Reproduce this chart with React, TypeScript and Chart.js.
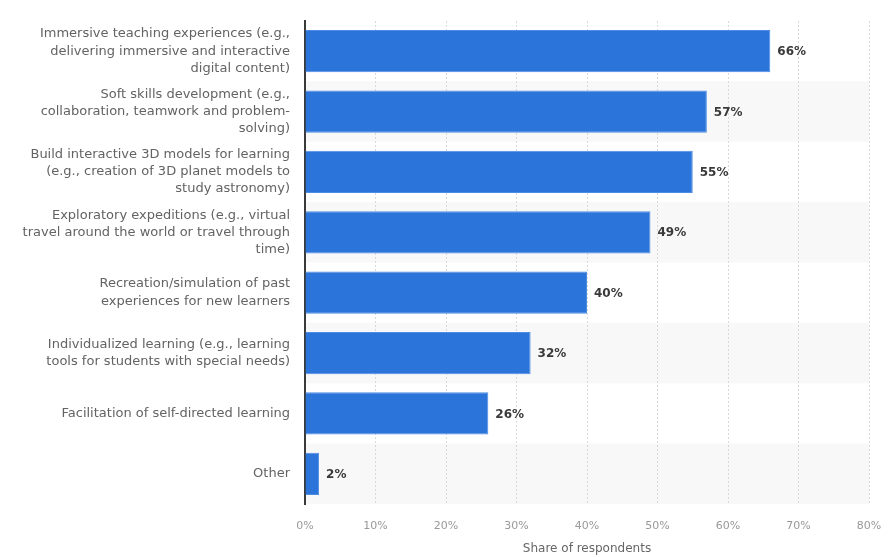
import React, { useEffect, useRef } from "react";
import { Chart, registerables } from "chart.js";

Chart.register(...registerables);

const categories: (string | string[])[] = [
  ["Immersive teaching experiences (e.g.,", "delivering immersive and interactive", "digital content)"],
  ["Soft skills development (e.g.,", "collaboration, teamwork and problem-", "solving)"],
  ["Build interactive 3D models for learning", "(e.g., creation of 3D planet models to", "study astronomy)"],
  ["Exploratory expeditions (e.g., virtual", "travel around the world or travel through", "time)"],
  ["Recreation/simulation of past", "experiences for new learners"],
  ["Individualized learning (e.g., learning", "tools for students with special needs)"],
  "Facilitation of self-directed learning",
  "Other",
];

const shares: number[] = [66, 57, 55, 49, 40, 32, 26, 2];

const xMin = 0;
const xMax = 80;
const xStep = 10;
const axisTitle = "Share of respondents";

const FONT = "'DejaVu Sans', sans-serif";

const bandPlugin = {
  id: "bands",
  beforeDraw(chart: any) {
    const { ctx, chartArea } = chart;
    const y = chart.scales.y;
    const n = chart.data.labels.length;
    const row = (chartArea.bottom - chartArea.top) / n;
    ctx.save();
    ctx.fillStyle = "#f8f8f8";
    for (let i = 1; i < n; i += 2) {
      const c = y.getPixelForValue(i);
      ctx.fillRect(chartArea.left, c - row / 2, chartArea.right - chartArea.left, row);
    }
    ctx.restore();
  },
};

const labelPlugin = {
  id: "valueLabels",
  afterDatasetsDraw(chart: any) {
    const { ctx } = chart;
    const meta = chart.getDatasetMeta(0);
    const data = chart.data.datasets[0].data;
    ctx.save();
    ctx.font = `bold 12px ${FONT}`;
    ctx.fillStyle = "#3a3a3a";
    ctx.textAlign = "left";
    ctx.textBaseline = "middle";
    meta.data.forEach((bar: any, i: number) => {
      ctx.fillText(`${data[i]}%`, bar.x + 7, bar.y + 1);
    });
    ctx.restore();
  },
};

export default function App() {
  const ref = useRef<HTMLCanvasElement>(null);

  useEffect(() => {
    if (!ref.current) return;
    const chart = new Chart(ref.current, {
      type: "bar",
      data: {
        labels: categories as any,
        datasets: [
          {
            data: shares,
            backgroundColor: "#2a74da",
            borderColor: "#4d8ce3",
            borderWidth: 1,
            barPercentage: 0.7,
            categoryPercentage: 1,
          },
        ],
      },
      options: {
        indexAxis: "y",
        animation: false,
        responsive: false,
        layout: { padding: { top: 21, right: 24, left: 0, bottom: 0 } },
        plugins: {
          legend: { display: false },
          tooltip: { enabled: false },
        },
        scales: {
          x: {
            type: "linear",
            min: xMin,
            max: xMax,
            ticks: {
              stepSize: xStep,
              callback: (v: any) => `${v}%`,
              color: "#999999",
              font: { family: FONT, size: 11 },
              padding: 16,
              maxRotation: 0,
            },
            grid: { color: "#d9d9d9", drawTicks: false, lineWidth: 1 },
            border: { display: false, dash: [2, 2] },
            title: {
              display: true,
              text: axisTitle,
              color: "#666666",
              font: { family: FONT, size: 12 },
              padding: { top: 0, bottom: 1 },
            },
            afterFit: (s: any) => {
              s.height = 53;
              s.paddingLeft = 0;
              s.paddingRight = 0;
            },
          },
          y: {
            ticks: {
              color: "#636363",
              font: { family: FONT, size: 13, lineHeight: 1.32 },
              padding: 15,
              autoSkip: false,
            },
            grid: { display: false, drawTicks: false },
            border: { display: true, color: "#3a3a3a", width: 2 },
            afterFit: (s: any) => {
              s.width = 305;
              s.paddingTop = 0;
              s.paddingBottom = 0;
            },
          },
        },
      },
      plugins: [bandPlugin, labelPlugin],
    });
    return () => chart.destroy();
  }, []);

  return (
    <div style={{ position: "absolute", left: 0, top: 0, width: 893, height: 557, background: "#fff" }}>
      <canvas ref={ref} width={893} height={557} style={{ width: 893, height: 557, display: "block" }} />
    </div>
  );
}
